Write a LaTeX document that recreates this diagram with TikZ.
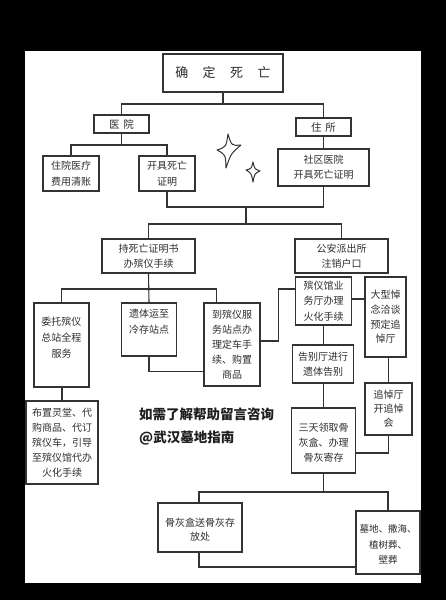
\documentclass[tikz,border=0pt]{standalone}
\usepackage{fontspec}
\newfontfamily\cjk{Noto Sans CJK SC}
\definecolor{linec}{HTML}{333333}
\definecolor{txtc}{HTML}{2E2E2E}
\begin{document}
\begin{tikzpicture}[x=1pt,y=-1pt,
  box/.style={draw=linec, line width=1.1pt, fill=white, inner sep=0pt, align=center, text=txtc, font=\cjk\fontsize{10}{15}\selectfont},
  txt/.style={inner sep=0pt, align=center, text=txtc, font=\cjk\fontsize{10}{15}\selectfont},
  sz/.style 2 args={minimum width=#1pt, minimum height=#2pt},
  fs/.style={font=\cjk\fontsize{10}{#1}\selectfont},
  conn/.style={draw=linec, line width=1.1pt},
  spark/.style={draw=linec, line width=1pt, line join=round}]
\fill[black] (0,0) rectangle (446,600);
\fill[white] (25,51) rectangle (421,583);
\useasboundingbox (0,0) rectangle (446,600);

% nodes
\node[box, sz={120}{38}, font=\cjk\fontsize{13}{13}\selectfont] (top) at (223,73) {确\hspace{14.5pt}定\hspace{14.5pt}死\hspace{14.5pt}亡};
\node[box, sz={55}{18}, font=\cjk\fontsize{10.5}{12}\selectfont] (hosp) at (121.5,124) {医\hspace{4pt}院};
\node[box, sz={55}{18}, font=\cjk\fontsize{10.5}{12}\selectfont] (res) at (323.5,127) {住\hspace{4pt}所};
\node[box, sz={56}{35}, fs=16] (inpat) at (71,173.5) {住院医疗\\费用清账};
\node[box, sz={56}{35}, fs=16] (cert) at (167,173.5) {开具死亡\\证明};
\node[box, sz={91}{37}, fs=15] (comm) at (323.5,167.5) {社区医院\\开具死亡证明};
\node[box, sz={93}{34}, fs=15] (hold) at (148.5,256) {持死亡证明书\\办殡仪手续};
\node[box, sz={93}{34}, fs=15] (police) at (341.5,256) {公安派出所\\注销户口};

\node[box, sz={55}{84}] (entrust) at (61.5,345) {};
\node[txt, fs=16] (entrust-t) at (61.5,338) {委托殡仪\\总站全程\\服务};
\node[box, sz={55}{53}] (body) at (149,329.5) {};
\node[txt, fs=16] (body-t) at (149,322) {遗体运至\\冷存站点};
\node[box, sz={56}{83}, fs=15] (goto) at (232,344.5) {到殡仪服\\务站点办\\理定车手\\续、购置\\商品};
\node[box, sz={56}{48}, fs=15.5] (fun) at (323.5,301) {殡仪馆业\\务厅办理\\火化手续};
\node[box, sz={41}{80}, fs=14.7] (big) at (385.5,317) {大型悼\\念洽谈\\预定追\\悼厅};
\node[box, sz={61}{38}, fs=15] (fare) at (323,364) {告别厅进行\\遗体告别};
\node[box, sz={47}{52}, fs=14] (memo) at (388.5,409) {追悼厅\\开追悼\\会};
\node[box, sz={64}{65}, fs=15] (three) at (323.5,440.5) {};
\node[txt, fs=15] (three-t) at (323.5,443) {三天领取骨\\灰盒、办理\\骨灰寄存};
\node[box, sz={72}{83}, fs=15] (arrange) at (62,442.5) {布置灵堂、代\\购商品、代订\\殡仪车，引导\\至殡仪馆代办\\火化手续};
\node[box, sz={84}{49}] (ash) at (200,527.5) {};
\node[txt, fs=14] (ash-t) at (200,529.5) {骨灰盒送骨灰存\\放处};
\node[box, sz={64}{63}] (grave) at (388,542.5) {};
\node[txt, font=\cjk\fontsize{9.5}{15.5}\selectfont] (grave-t) at (388,544.5) {墓地、撒海、\\植树葬、\\壁葬};

\node[inner sep=0pt, anchor=west, align=left, text=black!88, font=\cjk\bfseries\fontsize{13.5}{23}\selectfont] (ad) at (139,426.5) {如需了解帮助留言咨询\\@武汉墓地指南};

% junctions
\coordinate (j1) at (223,104);
\coordinate (j2) at (121.5,145);
\coordinate (j3) at (246,207);
\coordinate (j4) at (246,224);
\coordinate (j5) at (148.5,289);
\coordinate (j6) at (323.5,492);

% connectors
\draw[conn] (top.south) -- (j1);
\draw[conn] (hosp.north) |- (j1) -| (res.north);
\draw[conn] (hosp.south) -- (j2);
\draw[conn] (inpat.north) |- (j2) -| (cert.north);
\draw[conn] (res.south) -- (comm.north);
\draw[conn] (cert.south) |- (j3) -| (comm.south);
\draw[conn] (j3) -- (j4);
\draw[conn] (hold.north) |- (j4) -| (police.north);
\draw[conn] (hold.south) -- (body.north);
\draw[conn] (entrust.north) |- (j5) -| ([xshift=13pt]goto.north west);
\draw[conn] (body.south) |- ([yshift=15pt]goto.south west);
\draw[conn] ([yshift=3.5pt]goto.east) -- ++(18,0) |- ([yshift=12pt]fun.west);
\draw[conn] ([yshift=2pt]fun.east) -- ([yshift=2pt]fun.east -| big.west);
\draw[conn] (fun.south) -- (fun.south |- fare.north);
\draw[conn] (memo.north) -- (memo.north |- big.south);
\draw[conn] (fare.south -| three.north) -- (three.north);
\draw[conn] (memo.south) |- ([yshift=-12.5pt]three.east);
\draw[conn] (entrust.south) -- (entrust.south -| arrange.north) -- (arrange.north);
\draw[conn] (three.south) -- (j6);
\draw[conn] ([xshift=-1pt]ash.north) |- (j6) -| (grave.north);
\draw[conn] ([xshift=-1pt]ash.south) |- ([yshift=-24.5pt]grave.west);

% sparkles
\draw[spark] (228,134) .. controls (231.5,145.8) .. (241,145) .. controls (231,153.5) .. (226,168) .. controls (225.6,154.6) .. (217,150) .. controls (226.1,147) .. cycle;
\draw[spark] (253,162) .. controls (254.6,169) .. (260,171) .. controls (254.6,173.5) .. (253,182) .. controls (251.4,173.3) .. (246,170) .. controls (251.4,168.7) .. cycle;
\end{tikzpicture}
\end{document}
